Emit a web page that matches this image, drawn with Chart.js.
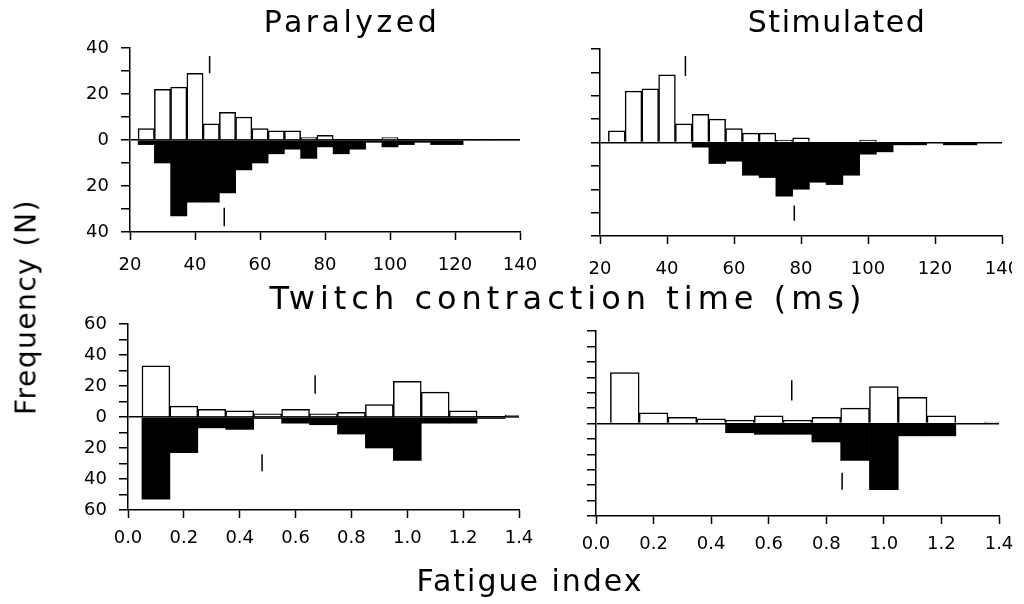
<!DOCTYPE html>
<html>
<head>
<meta charset="utf-8">
<script src="https://cdn.jsdelivr.net/npm/chart.js@4.4.1/dist/chart.umd.min.js"></script>
<style>
  body { margin: 0; background: #fff; width: 1024px; height: 604px; overflow: hidden; position: relative; font-family: 'DejaVu Sans', sans-serif; }
  canvas { position: absolute; left: 0; top: 0; }
  .lbl { position: absolute; color: #000; white-space: nowrap; transform: translate(-50%, -50%); }
</style>
</head>
<body>
<canvas id="tl" width="1024" height="604"></canvas>
<canvas id="tr" width="1012" height="604"></canvas>
<canvas id="bl" width="1024" height="604"></canvas>
<canvas id="br" width="1024" height="604"></canvas>

<div class="lbl" style="left:352px; top:21px; font-size:30px; letter-spacing:3.5px;">Paralyzed</div>
<div class="lbl" style="left:837px; top:21px; font-size:30px; letter-spacing:1.5px;">Stimulated</div>
<div class="lbl" style="left:568px; top:298px; font-size:32px; letter-spacing:5px;">Twitch contraction time (ms)</div>
<div class="lbl" style="left:530px; top:580px; font-size:30px; letter-spacing:2px;">Fatigue index</div>
<div class="lbl" style="left:26px; top:307px; font-size:28px; letter-spacing:1.5px; transform: translate(-50%, -50%) rotate(-90deg);">Frequency (N)</div>

<script>
// bins (bin centres)
const twitchBins = [25, 30, 35, 40, 45, 50, 55, 60, 65, 70, 75, 80, 85, 90, 95, 100, 105, 110, 115, 120, 125, 130, 135, 140];
const fatigueBins = [0.1, 0.2, 0.3, 0.4, 0.5, 0.6, 0.7, 0.8, 0.9, 1.0, 1.1, 1.2, 1.3, 1.4];

// counts: open bars above the axis, filled bars below the axis
const paraTwitchOpen   = [5, 22, 23, 29, 7, 12, 10, 5, 4, 4, 1, 2, 0, 0, 0, 1, 0, 0, 0, 0, 0, 0, 0, 0];
const paraTwitchFilled = [2, 10, 33, 27, 27, 23, 13, 10, 6, 4, 8, 3, 6, 4, 1, 3, 2, 1, 2, 2, 0, 0, 0, 0];
const stimTwitchOpen   = [5, 22, 23, 29, 8, 12, 10, 6, 4, 4, 1, 2, 0, 0, 0, 1, 0, 0, 0, 0, 0, 0, 0, 0];
const stimTwitchFilled = [0, 0, 0, 0, 0, 2, 9, 8, 14, 15, 23, 20, 17, 18, 14, 5, 4, 1, 1, 0, 1, 1, 0, 0];

const paraFatigueOpen   = [33, 7, 5, 4, 2, 5, 2, 3, 8, 23, 16, 4, 0, 1];
const paraFatigueFilled = [53, 23, 7, 8, 1, 4, 5, 11, 20, 28, 4, 4, 1, 0];
const stimFatigueOpen   = [33, 7, 4, 3, 2, 5, 2, 4, 10, 24, 17, 5, 0, 1];
const stimFatigueFilled = [0, 0, 0, 0, 6, 7, 7, 12, 24, 43, 8, 8, 0, 0];

// mean markers: [x, yFrom, yTo] for open and filled groups
const paraTwitchMeans = [[44.5, 36.5, 29], [49, -29.5, -37.5]];
const stimTwitchMeans = [[45.5, 37, 28.5], [78, -27, -33.5]];
const paraFatigueMeans = [[0.67, 27, 15], [0.48, -24, -35]];
const stimFatigueMeans = [[0.68, 28, 15], [0.855, -32, -43]];

const twitchTicks = { min: 20, max: 140, step: 20 };
const fatigueTicks = { min: 0, max: 1.4, step: 0.2 };

Chart.defaults.font.family = "'DejaVu Sans', sans-serif";
Chart.defaults.font.size = 18;
Chart.defaults.color = '#000';

function makePanel(id, box, bins, open, filled, means, xr, ymax, showYLabels, decimals, xPad) {
  const canvas = document.getElementById(id);
  const W = canvas.width, H = canvas.height;
  const yw = 60, xh = 48;

  const datasets = [
    {
      type: 'bar',
      data: bins.map((b, i) => ({ x: b, y: open[i] })),
      backgroundColor: '#fff',
      borderColor: '#000',
      borderWidth: 1.5,
      grouped: false,
      barPercentage: 1,
      categoryPercentage: 1
    },
    {
      type: 'bar',
      data: bins.map((b, i) => ({ x: b, y: -filled[i] })),
      backgroundColor: '#000',
      borderWidth: 0,
      grouped: false,
      barPercentage: 1,
      categoryPercentage: 1
    }
  ];
  means.forEach(m => {
    datasets.push({
      type: 'line',
      data: [{ x: m[0], y: m[1] }, { x: m[0], y: m[2] }],
      borderColor: '#000',
      borderWidth: 1.5,
      pointRadius: 0
    });
  });

  return new Chart(canvas, {
    type: 'bar',
    data: { datasets },
    options: {
      responsive: false,
      animation: false,
      layout: {
        padding: { left: box.l - yw, right: W - box.r, top: box.t, bottom: H - box.b - xh }
      },
      plugins: { legend: { display: false }, tooltip: { enabled: false } },
      scales: {
        x: {
          type: 'linear',
          min: xr.min,
          max: xr.max,
          offset: false,
          afterFit: s => { s.height = xh; s.paddingLeft = 0; s.paddingRight = 0; },
          border: { display: true, color: '#000', width: 1.5 },
          grid: { offset: false, drawOnChartArea: false, tickLength: 8, tickColor: '#000', tickWidth: 1.5 },
          ticks: {
            stepSize: xr.step,
            padding: xPad,
            maxRotation: 0,
            autoSkip: false,
            callback: v => v.toFixed(decimals)
          }
        },
        y: {
          min: -ymax,
          max: ymax,
          afterFit: s => { s.width = yw; },
          border: { display: true, color: '#000', width: 1.5 },
          grid: {
            drawOnChartArea: true,
            color: c => (c.tick && c.tick.value === 0 ? '#000' : 'rgba(0,0,0,0)'),
            lineWidth: 1.5,
            tickLength: 9,
            tickColor: '#000',
            tickWidth: 1.5
          },
          ticks: {
            stepSize: 10,
            padding: 12,
            autoSkip: false,
            callback: v => (showYLabels && v % 20 === 0 ? String(Math.abs(v)) : '')
          }
        }
      }
    }
  });
}

makePanel('tl', { l: 130, r: 520, t: 48, b: 232 }, twitchBins, paraTwitchOpen, paraTwitchFilled, paraTwitchMeans, twitchTicks, 40, true, 0, 15);
makePanel('tr', { l: 600, r: 1002, t: 49, b: 236 }, twitchBins, stimTwitchOpen, stimTwitchFilled, stimTwitchMeans, twitchTicks, 40, false, 0, 15);
makePanel('bl', { l: 128, r: 519, t: 324, b: 510 }, fatigueBins, paraFatigueOpen, paraFatigueFilled, paraFatigueMeans, fatigueTicks, 60, true, 1, 10);
makePanel('br', { l: 596, r: 999, t: 331, b: 516 }, fatigueBins, stimFatigueOpen, stimFatigueFilled, stimFatigueMeans, fatigueTicks, 60, false, 1, 10);
</script>
</body>
</html>
